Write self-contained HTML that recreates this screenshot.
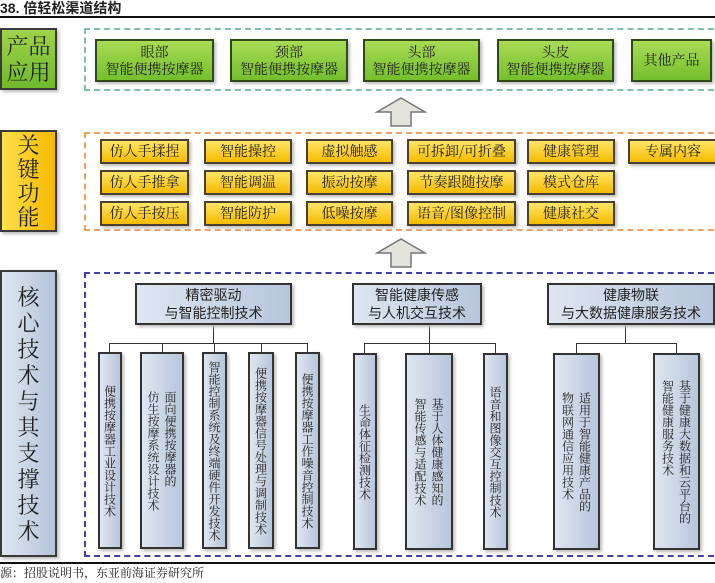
<!DOCTYPE html>
<html><head><meta charset="utf-8"><style>
*{margin:0;padding:0;box-sizing:border-box}
body{width:715px;height:583px;background:#fff;position:relative;overflow:hidden;font-family:"Liberation Sans","Noto Sans CJK SC",sans-serif;color:#222}
.a{position:absolute}
.lab{position:absolute;left:0;width:57px;border:2px solid #3a3a3a;display:flex;align-items:center;justify-content:center;text-align:center;font-family:"Noto Serif CJK SC",serif;font-size:22px;line-height:26px;color:#222;box-shadow:2px 2px 3px #bbb}
.g{position:absolute;border:2px solid #2f4a16;background:linear-gradient(#a9db55,#74bf2c);font-size:14px;line-height:17px;text-align:center;display:flex;align-items:center;justify-content:center;box-shadow:2px 2px 3px #bbb;font-family:"Noto Serif CJK SC",serif}
.y{position:absolute;border:2px solid #4a4030;background:linear-gradient(#ffe566,#f6bb00);font-size:14px;height:25px;line-height:21px;text-align:center;box-shadow:2px 2px 3px #bbb;font-family:"Noto Serif CJK SC",serif}
.b{position:absolute;border:2px solid #333;background:linear-gradient(90deg,#dfe6f1,#b7c6db);box-shadow:2px 2px 3px #bbb}
.h{top:283px;height:42px;font-size:14px;line-height:18px;text-align:center;display:flex;align-items:center;justify-content:center;font-family:"Noto Sans CJK SC",sans-serif}
.c{top:352px;height:197px;display:flex;align-items:center;justify-content:center}
.v{writing-mode:vertical-rl;font-size:12px;line-height:17px;font-family:"Noto Serif CJK SC",serif;white-space:nowrap}
.ln{position:absolute;background:#333}
</style></head><body>
<div class="a" style="left:0;top:0;font-size:14px;font-weight:bold;line-height:16px">38. 倍轻松渠道结构</div>
<div class="a" style="left:0;top:16px;width:715px;height:2px;background:#111"></div>

<div class="lab" style="top:28px;height:62px;background:linear-gradient(#9fd34c,#6fb92a)">产品<br>应用</div>
<div class="lab" style="top:130px;height:102px;background:linear-gradient(90deg,#ffe14a,#f5b800);line-height:24px">关<br>键<br>功<br>能</div>
<div class="lab" style="top:270px;height:287px;background:linear-gradient(90deg,#dfe6f1,#b4c4da);line-height:26px">核<br>心<br>技<br>术<br>与<br>其<br>支<br>撑<br>技<br>术</div>

<div class="a" style="left:84px;top:28px;width:640px;height:63px;border:2px dashed #7fbfa5"></div>
<div class="g" style="left:95px;top:39px;width:119px;height:43px">眼部<br>智能便携按摩器</div>
<div class="g" style="left:230px;top:39px;width:118px;height:43px">颈部<br>智能便携按摩器</div>
<div class="g" style="left:363px;top:39px;width:117px;height:43px">头部<br>智能便携按摩器</div>
<div class="g" style="left:497px;top:39px;width:117px;height:43px">头皮<br>智能便携按摩器</div>
<div class="g" style="left:631px;top:39px;width:81px;height:43px">其他产品</div>

<svg class="a" style="left:375px;top:96px" width="52" height="32"><polygon points="26,2 50,16 36,16 36,30 16,30 16,16 2,16" fill="#e4e4dc" stroke="#777" stroke-width="1.5"/></svg>
<svg class="a" style="left:375px;top:237px" width="52" height="32"><polygon points="26,2 50,16 36,16 36,30 16,30 16,16 2,16" fill="#e4e4dc" stroke="#777" stroke-width="1.5"/></svg>

<div class="a" style="left:84px;top:132px;width:640px;height:99px;border:2px dashed #f0a060"></div>
<div class="y" style="left:100px;top:139px;width:89px">仿人手揉捏</div>
<div class="y" style="left:100px;top:170px;width:89px">仿人手推拿</div>
<div class="y" style="left:100px;top:201px;width:89px">仿人手按压</div>
<div class="y" style="left:204px;top:139px;width:88px">智能操控</div>
<div class="y" style="left:204px;top:170px;width:88px">智能调温</div>
<div class="y" style="left:204px;top:201px;width:88px">智能防护</div>
<div class="y" style="left:306px;top:139px;width:87px">虚拟触感</div>
<div class="y" style="left:306px;top:170px;width:87px">振动按摩</div>
<div class="y" style="left:306px;top:201px;width:87px">低噪按摩</div>
<div class="y" style="left:407px;top:139px;width:109px">可拆卸/可折叠</div>
<div class="y" style="left:407px;top:170px;width:109px">节奏跟随按摩</div>
<div class="y" style="left:407px;top:201px;width:109px">语音/图像控制</div>
<div class="y" style="left:527px;top:139px;width:88px">健康管理</div>
<div class="y" style="left:527px;top:170px;width:88px">模式仓库</div>
<div class="y" style="left:527px;top:201px;width:88px">健康社交</div>
<div class="y" style="left:628px;top:139px;width:90px">专属内容</div>

<div class="a" style="left:84px;top:272px;width:640px;height:285px;border:2px dashed #4040a8"></div>

<div class="ln" style="left:213px;top:325px;width:1px;height:19px"></div>
<div class="ln" style="left:109px;top:343px;width:199px;height:1px"></div>
<div class="ln" style="left:109px;top:343px;width:1px;height:9px"></div>
<div class="ln" style="left:162px;top:343px;width:1px;height:9px"></div>
<div class="ln" style="left:214px;top:343px;width:1px;height:9px"></div>
<div class="ln" style="left:261px;top:343px;width:1px;height:9px"></div>
<div class="ln" style="left:307px;top:343px;width:1px;height:9px"></div>

<div class="ln" style="left:429px;top:325px;width:1px;height:19px"></div>
<div class="ln" style="left:364px;top:343px;width:131px;height:1px"></div>
<div class="ln" style="left:364px;top:343px;width:1px;height:10px"></div>
<div class="ln" style="left:429px;top:343px;width:1px;height:10px"></div>
<div class="ln" style="left:495px;top:343px;width:1px;height:10px"></div>

<div class="ln" style="left:625px;top:325px;width:1px;height:19px"></div>
<div class="ln" style="left:576px;top:343px;width:101px;height:1px"></div>
<div class="ln" style="left:576px;top:343px;width:1px;height:10px"></div>
<div class="ln" style="left:676px;top:343px;width:1px;height:10px"></div>

<div class="b h" style="left:135px;width:157px">精密驱动<br>与智能控制技术</div>
<div class="b h" style="left:352px;width:130px">智能健康传感<br>与人机交互技术</div>
<div class="b h" style="left:547px;width:168px">健康物联<br>与大数据健康服务技术</div>

<div class="b c" style="left:98px;width:24px"><div class="v">便携按摩器工业设计技术</div></div>
<div class="b c" style="left:140px;width:44px"><div class="v">面向便携按摩器的<br>仿生按摩系统设计技术</div></div>
<div class="b c" style="left:202px;width:25px"><div class="v">智能控制系统及终端硬件开发技术</div></div>
<div class="b c" style="left:248px;width:26px"><div class="v">便携按摩器信号处理与调制技术</div></div>
<div class="b c" style="left:295px;width:25px"><div class="v">便携按摩器工作噪音控制技术</div></div>

<div class="b c" style="left:353px;top:353px;width:24px"><div class="v">生命体征检测技术</div></div>
<div class="b c" style="left:405px;top:353px;width:48px"><div class="v">基于人体健康感知的<br>智能传感与适配技术</div></div>
<div class="b c" style="left:483px;top:353px;width:25px"><div class="v">语音和图像交互控制技术</div></div>

<div class="b c" style="left:553px;top:353px;width:47px"><div class="v">适用于智能健康产品的<br>物联网通信应用技术</div></div>
<div class="b c" style="left:653px;top:353px;width:47px"><div class="v">基于健康大数据和云平台的<br>智能健康服务技术</div></div>

<div class="a" style="left:0;top:562px;width:715px;height:2px;background:#111"></div>
<div class="a" style="left:0;top:566px;font-size:12px;line-height:14px;font-family:'Noto Serif CJK SC',serif">源：招股说明书，东亚前海证券研究所</div>
</body></html>
